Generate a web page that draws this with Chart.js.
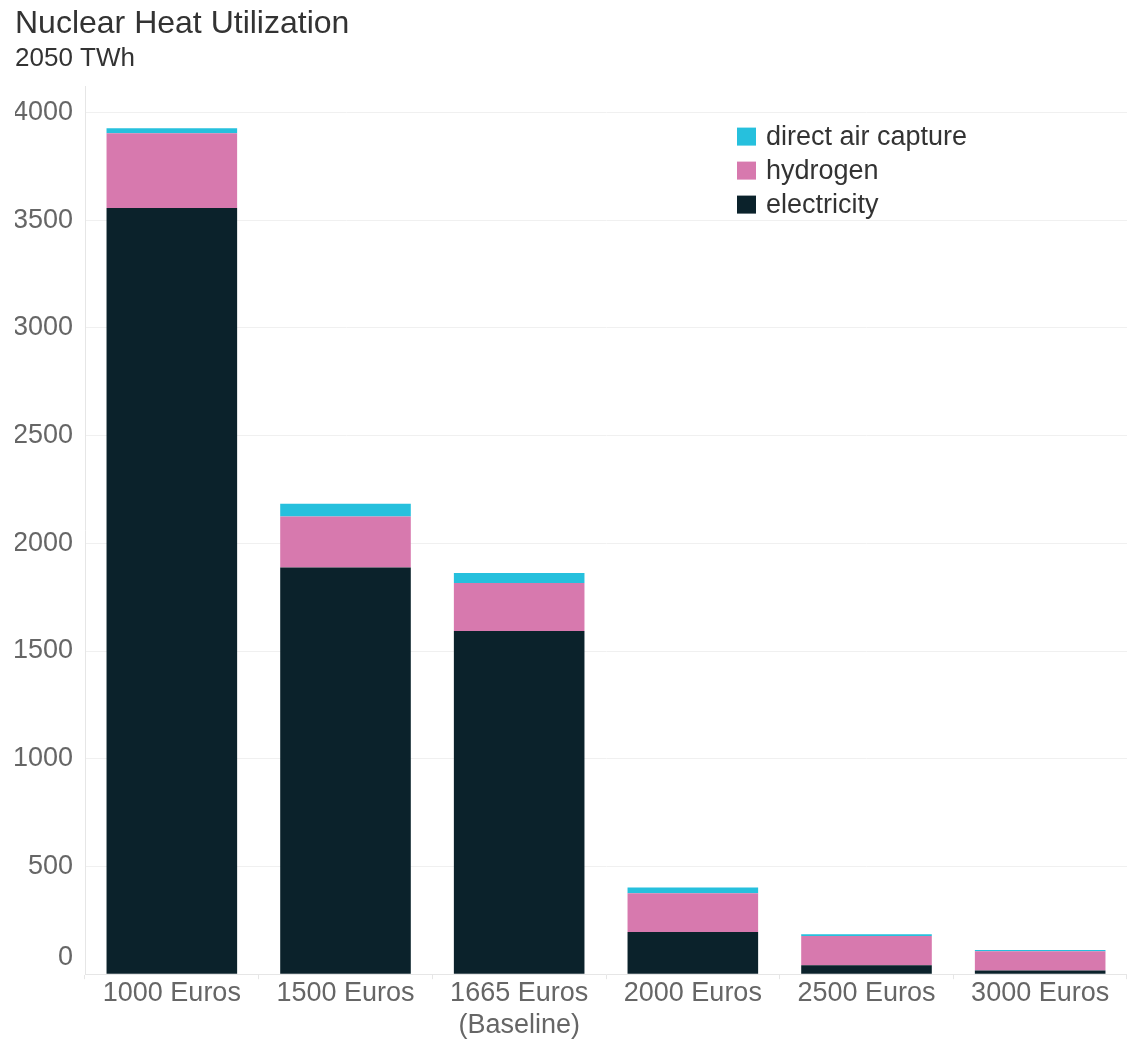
<!DOCTYPE html>
<html>
<head>
<meta charset="utf-8">
<script src="https://cdn.jsdelivr.net/npm/chart.js@4.4.0/dist/chart.umd.min.js"></script>
<style>
  html, body { margin: 0; padding: 0; background: #fff; }
  #wrap { width: 1127px; height: 1043px; }
</style>
</head>
<body>
<div id="wrap"><canvas id="heatChart"></canvas></div>
<script>
const categories = ['1000 Euros', '1500 Euros', ['1665 Euros', '(Baseline)'], '2000 Euros', '2500 Euros', '3000 Euros'];
const electricity = [3557, 1888, 1593, 196, 42, 17];
const hydrogen = [346, 237, 223, 180, 135, 90];
const directAirCapture = [24, 59, 46, 26, 8, 5];
const yTicks = [0, 500, 1000, 1500, 2000, 2500, 3000, 3500, 4000];

const FONT = '"Liberation Sans", Arial, sans-serif';

// legend drawn inside the plot, top right, top series first
const cornerLegend = {
    id: 'cornerLegend',
    afterDraw(chart) {
        const ctx = chart.ctx;
        const area = chart.chartArea;
        const items = chart.data.datasets.slice().reverse();
        let x = 737;
        let y = area.top + 50;
        ctx.save();
        ctx.font = '27px ' + FONT;
        ctx.textBaseline = 'middle';
        items.forEach(ds => {
            ctx.fillStyle = ds.backgroundColor;
            ctx.fillRect(x, y - 9, 19, 18);
            ctx.fillStyle = '#333';
            ctx.fillText(ds.label, x + 29, y + 1);
            y += 34;
        });
        ctx.restore();
    }
};

const ctx = document.getElementById('heatChart').getContext('2d');
new Chart(ctx, {
    type: 'bar',
    data: {
        labels: categories,
        datasets: [
            { label: 'electricity', data: electricity, backgroundColor: '#0b222b' },
            { label: 'hydrogen', data: hydrogen, backgroundColor: '#d779ae' },
            { label: 'direct air capture', data: directAirCapture, backgroundColor: '#26c0dd' }
        ]
    },
    options: {
        responsive: true,
        maintainAspectRatio: false,
        animation: false,
        layout: { padding: { left: 15, right: -4, top: 0, bottom: 3 } },
        datasets: {
            bar: { categoryPercentage: 1, barPercentage: 0.752 }
        },
        plugins: {
            legend: { display: false },
            tooltip: { enabled: false },
            title: {
                display: true,
                text: 'Nuclear Heat Utilization',
                align: 'start',
                color: '#333',
                font: { family: FONT, size: 32, weight: 'normal' },
                padding: { top: 5, bottom: 0 }
            },
            subtitle: {
                display: true,
                text: '2050 TWh',
                align: 'start',
                color: '#333',
                font: { family: FONT, size: 26, weight: 'normal' },
                padding: { top: 0, bottom: 12 }
            }
        },
        scales: {
            x: {
                stacked: true,
                grid: {
                    offset: true,
                    drawOnChartArea: false,
                    color: '#e6e6e6',
                    tickLength: 5
                },
                border: { color: '#e6e6e6' },
                ticks: {
                    color: '#666',
                    padding: -2,
                    maxRotation: 0,
                    autoSkip: false,
                    font: { family: FONT, size: 27 }
                }
            },
            y: {
                stacked: true,
                min: 0,
                max: 4120,
                afterBuildTicks: scale => {
                    scale.ticks = yTicks.map(v => ({ value: v }));
                },
                afterFit: scale => {
                    scale.width = 70;
                },
                grid: { color: '#f0f0f0', drawTicks: false },
                border: { color: '#e6e6e6' },
                ticks: {
                    color: '#666',
                    padding: 12,
                    font: { family: FONT, size: 27 },
                    callback: v => v === 0 ? ['0', ''] : String(v)
                }
            }
        }
    },
    plugins: [cornerLegend]
});
</script>
</body>
</html>
